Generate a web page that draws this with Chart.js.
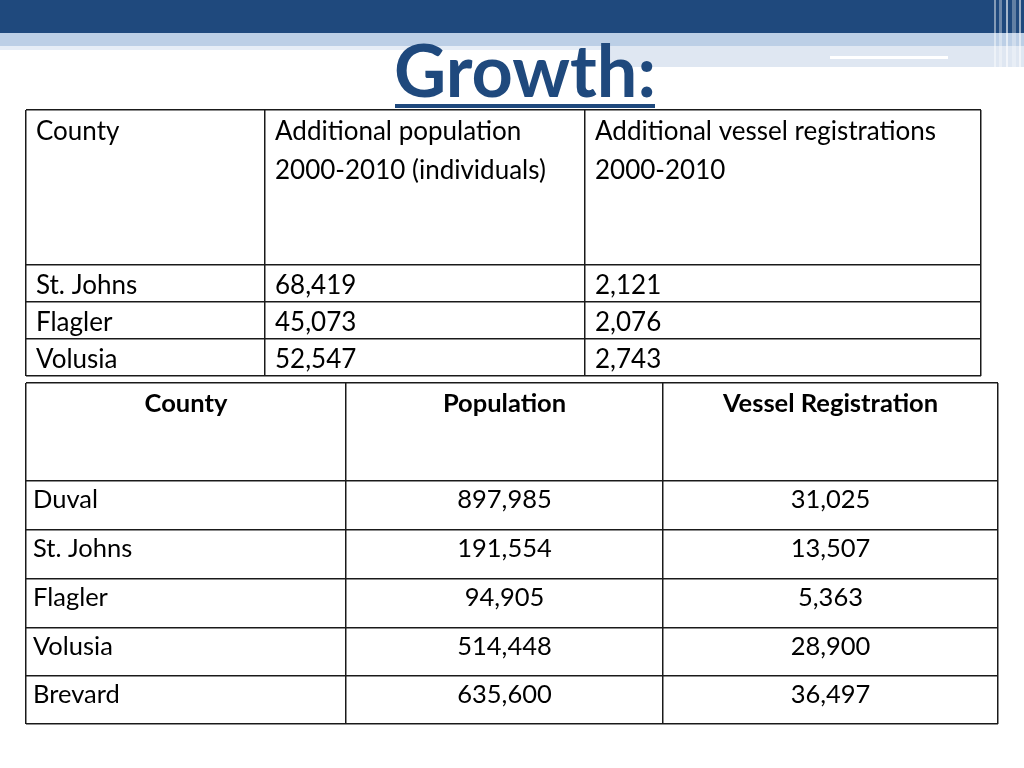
<!DOCTYPE html>
<html>
<head>
<meta charset="utf-8">
<script src="https://cdn.jsdelivr.net/npm/chart.js@4.4.1/dist/chart.umd.min.js"></script>
<style>
  body { margin: 0; width: 1024px; height: 768px; background: #fff; position: relative; overflow: hidden; font-family: Lato, "Open Sans", sans-serif; }
  .deco { position: absolute; }
  .title { position: absolute; left: 0; top: 33px; width: 1024px; padding-left: 26px; box-sizing: border-box; text-align: center;
           font: bold 72px/72px Lato, sans-serif; color: #1f497d; }
  canvas { position: absolute; }
</style>
</head>
<body>
<div class="deco" style="left:0;top:0;width:1024px;height:33px;background:#1f497d"></div>
<div class="deco" style="left:0;top:33px;width:1024px;height:13px;background:#bccfe6"></div>
<div class="deco" style="left:0;top:46px;width:610px;height:4px;background:#e6edf6"></div>
<div class="deco" style="left:610px;top:46px;width:414px;height:21px;background:#dfe7f2"></div>
<div class="deco" style="left:830px;top:56px;width:118px;height:3px;background:#fff"></div>
<div class="deco" style="left:994px;top:0;width:2px;height:68px;background:rgba(255,255,255,0.45)"></div>
<div class="deco" style="left:999px;top:0;width:3px;height:68px;background:rgba(255,255,255,0.35)"></div>
<div class="deco" style="left:1006px;top:0;width:2px;height:68px;background:rgba(255,255,255,0.6)"></div>
<div class="deco" style="left:1012px;top:0;width:4px;height:68px;background:rgba(255,255,255,0.3)"></div>
<div class="deco" style="left:1019px;top:0;width:2px;height:68px;background:rgba(255,255,255,0.55)"></div>
<div class="title">Growth:</div>
<div class="deco" style="left:395px;top:104px;width:260px;height:4px;background:#1f497d"></div>

<canvas id="table1" width="959" height="270" style="left:24px;top:108px"></canvas>
<canvas id="table2" width="976" height="345" style="left:24px;top:381px"></canvas>

<script>
// table 1: growth 2000-2010
var t1Headers = [['County'], ['Additional population', '2000-2010 (individuals)'], ['Additional vessel registrations', '2000-2010']];
var t1Counties = ['St. Johns', 'Flagler', 'Volusia'];
var t1AddPopulation = [68419, 45073, 52547];
var t1AddVessels = [2121, 2076, 2743];

// table 2: totals
var t2Headers = ['County', 'Population', 'Vessel Registration'];
var t2Counties = ['Duval', 'St. Johns', 'Flagler', 'Volusia', 'Brevard'];
var t2Population = [897985, 191554, 94905, 514448, 635600];
var t2Vessels = [31025, 13507, 5363, 28900, 36497];

function fmt(n) { return n.toLocaleString('en-US'); }

function edges(sizes) {
    var e = [0];
    sizes.forEach(function(s) { e.push(e[e.length - 1] + s); });
    return e;
}

// draws the text of every point at the position the scales give it
var cellText = {
    id: 'cellText',
    afterDatasetsDraw: function(chart) {
        var ctx = chart.ctx;
        ctx.save();
        ctx.fillStyle = '#000';
        ctx.textBaseline = 'alphabetic';
        chart.data.datasets.forEach(function(ds, i) {
            var meta = chart.getDatasetMeta(i);
            meta.data.forEach(function(el, j) {
                var p = ds.data[j];
                ctx.font = p.font;
                ctx.textAlign = p.align;
                ctx.fillText(p.text, el.x, el.y);
            });
        });
        ctx.restore();
    }
};

function makeTable(id, cfg) {
    var xs = edges(cfg.colWidths);
    var ys = edges(cfg.rowHeights);
    function xFor(c, align) {
        return align === 'left' ? xs[c] + cfg.padX : (xs[c] + xs[c + 1]) / 2;
    }
    var datasets = cfg.columns.map(function(col, c) {
        var align = cfg.align[c];
        var headAlign = cfg.headAlign || align;
        var pts = [];
        cfg.headers[c].forEach(function(line, k) {
            pts.push({ x: xFor(c, headAlign), y: cfg.headBase + k * cfg.lineGap, text: line, font: cfg.headFont, align: headAlign });
        });
        col.forEach(function(txt, r) {
            pts.push({ x: xFor(c, align), y: ys[r + 1] + cfg.bodyBase, text: txt, font: cfg.bodyFont, align: align });
        });
        return { data: pts, pointRadius: 0, pointHoverRadius: 0 };
    });
    var grid = { color: '#1a1a1a', lineWidth: 1.5, drawTicks: false };
    return new Chart(document.getElementById(id), {
        type: 'scatter',
        data: { datasets: datasets },
        options: {
            responsive: false,
            animation: false,
            events: [],
            layout: { padding: 2 },
            plugins: { legend: { display: false }, tooltip: { enabled: false } },
            scales: {
                x: {
                    type: 'linear', min: 0, max: xs[xs.length - 1],
                    afterBuildTicks: function(axis) { axis.ticks = xs.map(function(v) { return { value: v }; }); },
                    ticks: { display: false }, grid: grid, border: { display: false }
                },
                y: {
                    type: 'linear', min: 0, max: ys[ys.length - 1], reverse: true,
                    afterBuildTicks: function(axis) { axis.ticks = ys.map(function(v) { return { value: v }; }); },
                    ticks: { display: false }, grid: grid, border: { display: false }
                }
            }
        },
        plugins: [cellText]
    });
}

makeTable('table1', {
    colWidths: [239, 320, 396],
    rowHeights: [155, 37, 37, 37],
    headers: t1Headers,
    columns: [t1Counties, t1AddPopulation.map(fmt), t1AddVessels.map(fmt)],
    align: ['left', 'left', 'left'],
    padX: 10,
    headBase: 30,
    lineGap: 39,
    bodyBase: 29,
    headFont: '26px Lato',
    bodyFont: '26px Lato'
});

makeTable('table2', {
    colWidths: [320, 317, 335],
    rowHeights: [98, 49, 49, 49, 48, 48],
    headers: t2Headers.map(function(h) { return [h]; }),
    columns: [t2Counties, t2Population.map(fmt), t2Vessels.map(fmt)],
    align: ['left', 'center', 'center'],
    headAlign: 'center',
    padX: 7,
    headBase: 29,
    lineGap: 0,
    bodyBase: 27,
    headFont: 'bold 25.5px Lato',
    bodyFont: '25.5px Lato'
});
</script>
</body>
</html>
